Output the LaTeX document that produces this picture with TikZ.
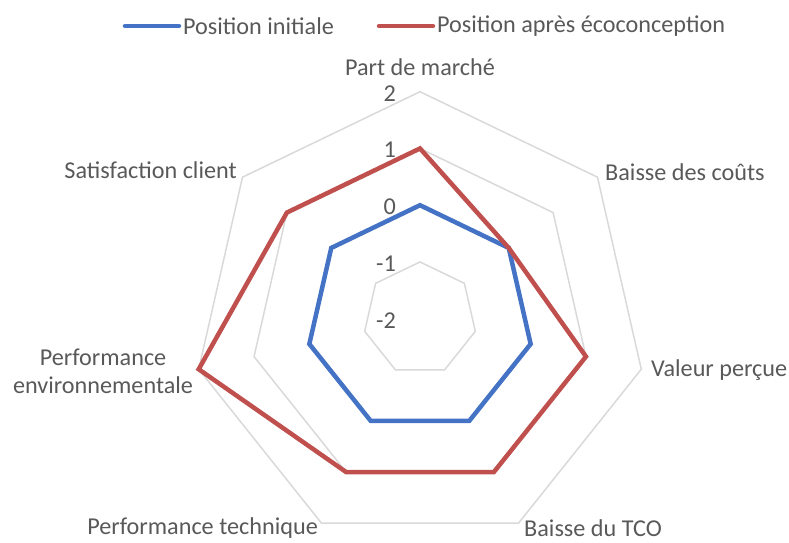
\documentclass[tikz,border=0pt]{standalone}
\usepackage{fontspec}
\setmainfont{Carlito}
\definecolor{grille}{RGB}{217,217,217}
\definecolor{texte}{RGB}{89,89,89}
\definecolor{bleu}{RGB}{68,114,196}
\definecolor{rouge}{RGB}{192,80,77}
\tikzset{
  anneau/.style={draw=grille, line width=1.5pt},
  serie/.style={line width=4.5pt},
  etiquette/.style={text=texte, font=\fontsize{24.2}{28}\selectfont, inner sep=0pt},
  graduation/.style={etiquette, anchor=east}
}
\begin{document}
\begin{tikzpicture}[x=1pt,y=1pt]
		\useasboundingbox (-420,-223.3) rectangle (369,318.7);

		% Anneaux de la grille (-1 a 2)
		\foreach \r in {56.75,113.5,170.25,227}
			\draw[anneau] (90:\r) -- (38.57:\r) -- (-12.86:\r) -- (-64.29:\r)
				-- (-115.71:\r) -- (-167.14:\r) -- (141.43:\r) -- cycle;

		% Graduations
		\node[graduation] (g2) at (-24,225.5) {2};
		\node[graduation] (g1) at (-24,168.7) {1};
		\node[graduation] (g0) at (-24,111.9) {0};
		\node[graduation] (gm1) at (-24,55.2) {-1};
		\node[graduation] (gm2) at (-24,-1.5) {-2};

		% Position initiale
		\draw[serie, bleu] (90:113.5) -- (38.57:113.5) -- (-12.86:113.5) -- (-64.29:113.5)
			-- (-115.71:113.5) -- (-167.14:113.5) -- (141.43:113.5) -- cycle;

		% Position apres ecoconception
		\draw[serie, rouge] (90:170.25) -- (38.57:113.5) -- (-12.86:170.25) -- (-64.29:170.25)
			-- (-115.71:170.25) -- (-167.14:227) -- (141.43:170.25) -- cycle;

		% Axes
		\node[etiquette] (pdm) at (0,251.7) {Part de marché};
		\node[etiquette, anchor=west] (cout) at (185,146.7) {Baisse des coûts};
		\node[etiquette, anchor=west] (valeur) at (231,-51.3) {Valeur perçue};
		\node[etiquette, anchor=west] (tco) at (104,-209.5) {Baisse du TCO};
		\node[etiquette, anchor=east] (tech) at (-102,-209.5) {Performance technique};
		\node[etiquette, align=center] (envir) at (-317,-52.3) {Performance\\environnementale};
		\node[etiquette, anchor=east] (satis) at (-183,148.7) {Satisfaction client};

		% Legende
		\coordinate (legBa) at (-295,292.7);
		\coordinate (legBb) at (-241,292.7);
		\coordinate (legRa) at (-41,292.7);
		\coordinate (legRb) at (13,292.7);
		\draw[serie, bleu, line cap=round] (legBa) -- (legBb);
		\node[etiquette, anchor=west] (legB) at (-237,292.7) {Position initiale};
		\draw[serie, rouge, line cap=round] (legRa) -- (legRb);
		\node[etiquette, anchor=west] (legR) at (17,292.7) {Position après écoconception};
	\end{tikzpicture}
\end{document}
